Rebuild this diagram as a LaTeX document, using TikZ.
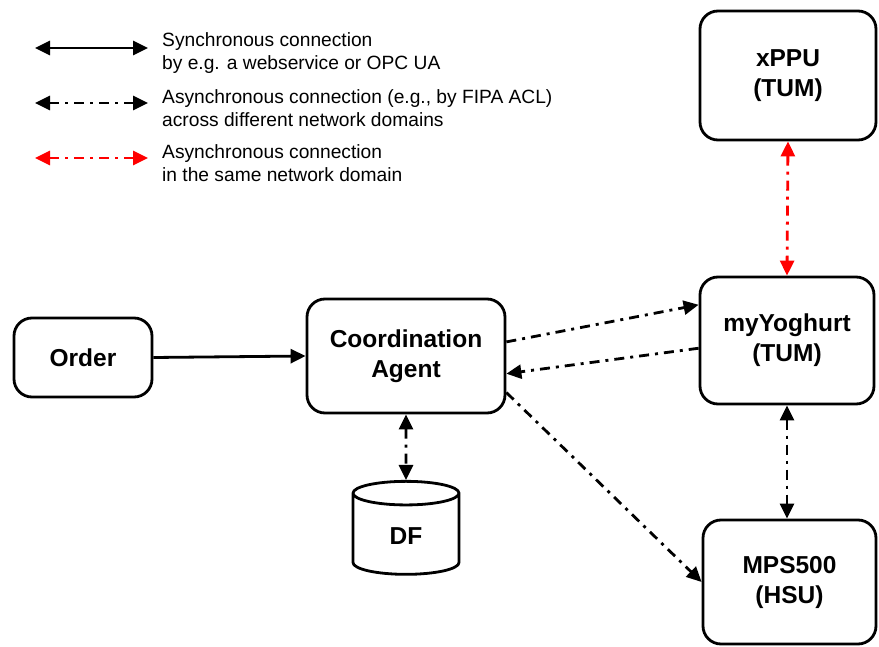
\documentclass[tikz,border=0pt]{standalone}
\usepackage{fontspec}
\setmainfont{Liberation Sans}
\usetikzlibrary{arrows.meta,shapes.geometric}

\tikzset{
  agent/.style={draw,line width=2.8pt,rounded corners=18pt,align=center,
    font=\fontsize{24.5}{30}\selectfont\bfseries},
  store/.style={draw,line width=2.8pt,cylinder,shape border rotate=90,aspect=0.6,
    font=\fontsize{24.5}{30}\selectfont\bfseries},
  tip/.style={-{Triangle[length=15pt,width=14pt]}},
  tips/.style={{Triangle[length=15pt,width=14pt]}-{Triangle[length=15pt,width=14pt]}},
  syncline/.style={line width=2.8pt},
  asyncline/.style={line width=2.8pt,dash pattern=on 10pt off 6pt on 3pt off 6pt},
  legendtext/.style={anchor=west,align=left,inner sep=0pt,
    font=\fontsize{19.2}{23}\selectfont}
}

\begin{document}
\begin{tikzpicture}[x=1pt,y=1pt,yscale=-1]
\useasboundingbox (0,0) rectangle (879,647);

% Legend
\coordinate (syncA) at (35,48);
\coordinate (syncB) at (148,48);
\coordinate (asyncA) at (35,103);
\coordinate (asyncB) at (148,103);
\coordinate (localA) at (35,158);
\coordinate (localB) at (148,158);
\draw[syncline,tips] (syncA) -- (syncB);
\draw[asyncline,tips] (asyncA) -- (asyncB);
\draw[asyncline,tips,red] (localA) -- (localB);
\node[legendtext] (syncText) at (162,53.5) {Synchronous connection\\by e.g. a webservice or OPC UA};
\node[legendtext] (asyncText) at (162,108.5) {Asynchronous connection (e.g., by FIPA ACL)\\across different network domains};
\node[legendtext] (localText) at (162,163.5) {Asynchronous connection\\in the same network domain};

% Agents
\node[agent,minimum width=176pt,minimum height=129pt] (xppu) at (788,75.5) {xPPU\\(TUM)};
\node[agent,minimum width=174pt,minimum height=127pt] (myy) at (787,340.5) {myYoghurt\\(TUM)};
\node[agent,minimum width=173pt,minimum height=124pt] (mps) at (789.5,582) {MPS500\\(HSU)};
\node[agent,minimum width=198pt,minimum height=114pt] (ca) at (406,356) {Coordination\\Agent};
\node[agent,minimum width=138pt,minimum height=79pt] (order) at (83,357.5) {Order};
\node[store,minimum width=106pt,minimum height=93pt] (df) at (406,536.5) {DF};

% Connections
\draw[syncline,tip] (order.east) -- (ca.west);
\draw[asyncline,tip] (ca.8) -- (myy.158);
\draw[asyncline,tip] (myy.185) -- (ca.350);
\draw[asyncline,tip] (ca.-20) -- (mps.west);
\draw[asyncline,tips] (ca.south) -- (df.north);
\draw[asyncline,tips,red] (xppu.south) -- (myy.north);
\draw[asyncline,tips] (myy.south) -- (myy.south|-mps.north);

\end{tikzpicture}
\end{document}
